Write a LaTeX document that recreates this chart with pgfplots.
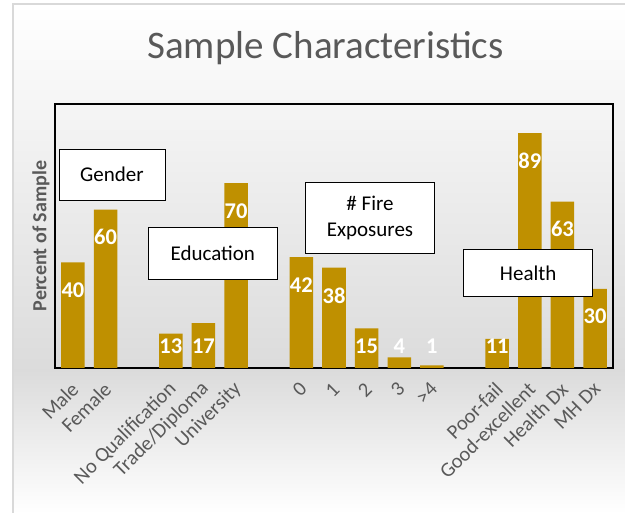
\documentclass[border=0pt]{standalone}
\usepackage{pgfplots}
\pgfplotsset{compat=1.18}
\usepackage{fontspec}
\setmainfont{Carlito}
\definecolor{gold}{HTML}{BF9000}
\definecolor{txtgray}{HTML}{595959}
\definecolor{bordergray}{HTML}{D9D9D9}
\pgfdeclareverticalshading{bgshade}{100bp}{color(0bp)=(white); color(25bp)=(white); color(39bp)=(black!14); color(65bp)=(black!4); color(75bp)=(white); color(100bp)=(white)}
\begin{document}
\begin{tikzpicture}
\shade[shading=bgshade] (-42pt,-145pt) rectangle (570pt,363.5pt);
\draw[bordergray, line width=2pt] (-42pt,-145pt) -- (-42pt,363.5pt) -- (570pt,363.5pt);
\begin{axis}[
  at={(0pt,0pt)}, anchor=south west,
  scale only axis, width=558pt, height=264pt,
  xmin=-0.55, xmax=16.55, ymin=0, ymax=100,
  ytick=\empty,
  xtick={0,1,3,4,5,7,8,9,10,11,13,14,15,16},
  xticklabels={Male,Female,No Qualification,Trade/Diploma,University,0,1,2,3,>4,Poor-fail,Good-excellent,Health Dx,MH Dx},
  major tick length=0pt,
  axis line style={line width=1.3pt, black},
  xticklabel style={xshift=4.5pt, yshift=-15.5pt, rotate=45, anchor=east, font=\fontsize{20.5}{24}\selectfont, text=txtgray},
  title={Sample Characteristics},
  title style={at={(axis description cs:0.5,1)}, anchor=base, yshift=39pt, xshift=-8.5pt, font=\fontsize{39}{44}\selectfont, text=txtgray},
  clip=false,
]
\addplot[ybar, bar width=23.5pt, fill=gold, draw=none] coordinates {
  (0,40) (1,60) (3,13) (4,17) (5,70) (7,42) (8,38) (9,15) (10,4) (11,1) (13,11) (14,89) (15,63) (16,30)
};
\addplot[draw=none, nodes near coords, point meta=explicit symbolic,
  nodes near coords style={anchor=center, text=white, font=\bfseries\fontsize{22.5}{26}\selectfont}] coordinates {
  (0,29.5)[40] (1,49.5)[60] (3,8.3)[13] (4,8.3)[17] (5,59.5)[70] (7,31.5)[42] (8,27.5)[38] (9,8.3)[15] (10,8.3)[4] (11,8.3)[1] (13,8.3)[11] (14,78.5)[89] (15,52.5)[63] (16,19.5)[30]
};
\end{axis}
\node[rotate=90, anchor=center, text=txtgray, font=\bfseries\fontsize{20}{24}\selectfont] at (-14pt,132pt) {Percent of Sample};
\begin{scope}[every node/.style={draw=black, line width=0.8pt, fill=white, align=center, font=\fontsize{21}{26}\selectfont, inner sep=0pt}]
\node[minimum width=106pt, minimum height=51pt] at (57pt,193.5pt) {Gender};
\node[minimum width=129pt, minimum height=51.7pt] at (157.8pt,114.8pt) {Education};
\node[minimum width=128.6pt, minimum height=71pt] at (315pt,150.2pt) {\# Fire\\Exposures};
\node[minimum width=129pt, minimum height=47.4pt] at (473.2pt,95pt) {Health};
\end{scope}
\pgfresetboundingbox
\useasboundingbox (-55pt,-145pt) rectangle (570pt,368pt);
\end{tikzpicture}
\end{document}
